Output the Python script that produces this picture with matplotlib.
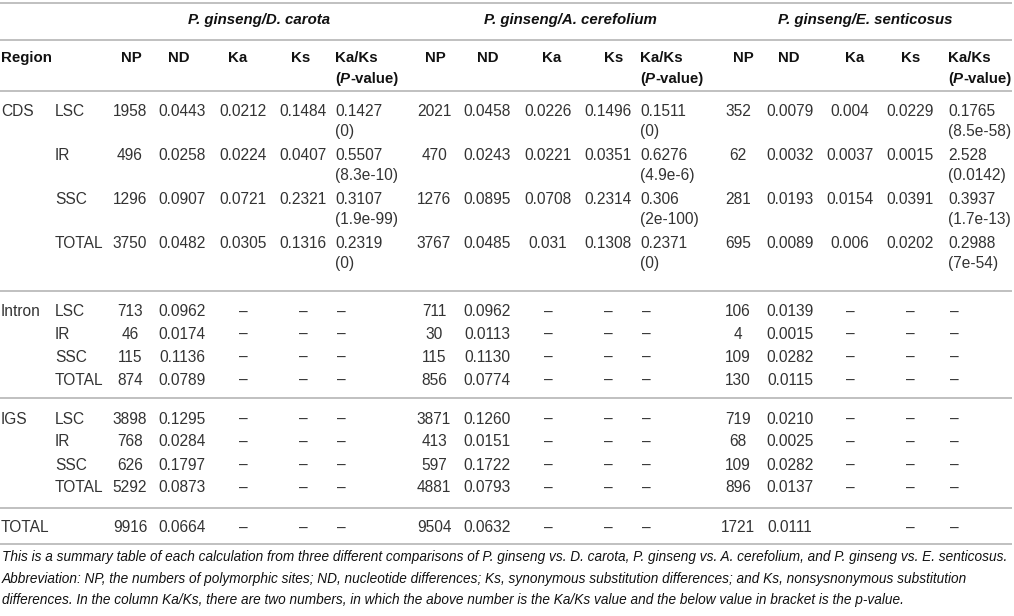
import matplotlib
matplotlib.use('Agg')
import matplotlib.pyplot as plt

# ---- table data (strings keep the printed formatting) ----
regions = ['CDS', '', '', '', 'Intron', '', '', '', 'IGS', '', '', '', 'TOTAL']
subregions = ['LSC', 'IR', 'SSC', 'TOTAL'] * 3 + ['']

comparisons = ['P. ginseng/D. carota', 'P. ginseng/A. cerefolium', 'P. ginseng/E. senticosus']

np_carota = ['1958', '496', '1296', '3750', '713', '46', '115', '874', '3898', '768', '626', '5292', '9916']
nd_carota = ['0.0443', '0.0258', '0.0907', '0.0482', '0.0962', '0.0174', '0.1136', '0.0789',
             '0.1295', '0.0284', '0.1797', '0.0873', '0.0664']
ka_carota = ['0.0212', '0.0224', '0.0721', '0.0305'] + ['–'] * 9
ks_carota = ['0.1484', '0.0407', '0.2321', '0.1316'] + ['–'] * 9
kaks_carota = ['0.1427', '0.5507', '0.3107', '0.2319'] + ['–'] * 9
pval_carota = ['(0)', '(8.3e-10)', '(1.9e-99)', '(0)']

np_cere = ['2021', '470', '1276', '3767', '711', '30', '115', '856', '3871', '413', '597', '4881', '9504']
nd_cere = ['0.0458', '0.0243', '0.0895', '0.0485', '0.0962', '0.0113', '0.1130', '0.0774',
           '0.1260', '0.0151', '0.1722', '0.0793', '0.0632']
ka_cere = ['0.0226', '0.0221', '0.0708', '0.031'] + ['–'] * 9
ks_cere = ['0.1496', '0.0351', '0.2314', '0.1308'] + ['–'] * 9
kaks_cere = ['0.1511', '0.6276', '0.306', '0.2371'] + ['–'] * 9
pval_cere = ['(0)', '(4.9e-6)', '(2e-100)', '(0)']

np_sent = ['352', '62', '281', '695', '106', '4', '109', '130', '719', '68', '109', '896', '1721']
nd_sent = ['0.0079', '0.0032', '0.0193', '0.0089', '0.0139', '0.0015', '0.0282', '0.0115',
           '0.0210', '0.0025', '0.0282', '0.0137', '0.0111']
ka_sent = ['0.004', '0.0037', '0.0154', '0.006'] + ['–'] * 8 + ['']
ks_sent = ['0.0229', '0.0015', '0.0391', '0.0202'] + ['–'] * 9
kaks_sent = ['0.1765', '2.528', '0.3937', '0.2988'] + ['–'] * 9
pval_sent = ['(8.5e-58)', '(0.0142)', '(1.7e-13)', '(7e-54)']

footnote = [
    "This is a summary table of each calculation from three different comparisons of P. ginseng vs. D. carota, "
    "P. ginseng vs. A. cerefolium, and P. ginseng vs. E. senticosus.",
    "Abbreviation: NP, the numbers of polymorphic sites; ND, nucleotide differences; Ks, synonymous substitution "
    "differences; and Ks, nonsysnonymous substitution",
    "differences. In the column Ka/Ks, there are two numbers, in which the above number is the Ka/Ks value and "
    "the below value in bracket is the p-value.",
]

# ---- layout ----
W, H = 1014, 616
fig = plt.figure(figsize=(W / 100, H / 100), dpi=100)
ax = fig.add_axes([0, 0, 1, 1])
ax.set_xlim(0, W)
ax.set_ylim(H, 0)
ax.axis('off')
renderer = fig.canvas.get_renderer()

FAM = ['Liberation Sans', 'DejaVu Sans']
FS = 11.2
FS_HEAD = 10.8
BODY = '#333333'
HEAD = '#111111'
LINE = '#b5b5b5'

for yl in [3, 40, 91, 291, 398, 508, 544]:
    ax.plot([0, 1012], [yl, yl], color=LINE, lw=1.2, solid_capstyle='butt')

# row centres
row_y = [112 + 44 * i for i in range(4)] + [312 + 22.7 * i for i in range(4)] \
    + [419 + 23 * i for i in range(4)] + [528]

# column centres for NP, ND, Ka, Ks; left edge for Ka/Ks; header centres
col_geom = [
    dict(np=130, nd=182, ka=243, ks=303, kaks=335, hdr=259,
         hnp=131, hnd=179, hka=238, hks=301),
    dict(np=434, nd=487, ka=548, ks=608, kaks=640, hdr=570,
         hnp=435, hnd=488, hka=552, hks=614),
    dict(np=738, nd=790, ka=850, ks=910, kaks=948, hdr=865,
         hnp=743, hnd=789, hka=855, hks=911),
]
data = [
    (np_carota, nd_carota, ka_carota, ks_carota, kaks_carota, pval_carota),
    (np_cere, nd_cere, ka_cere, ks_cere, kaks_cere, pval_cere),
    (np_sent, nd_sent, ka_sent, ks_sent, kaks_sent, pval_sent),
]


def segs(x, y, parts, **kw):
    for s, style in parts:
        t = ax.text(x, y, s, style=style, ha='left', va='center', **kw)
        x += t.get_window_extent(renderer).width


hkw = dict(family=FAM, fontsize=FS_HEAD, fontweight='bold', color=HEAD)
bkw = dict(family=FAM, fontsize=FS, color=BODY)

# header
ax.text(1, 58, 'Region', ha='left', va='center', **hkw)
for name, g in zip(comparisons, col_geom):
    ax.text(g['hdr'], 20, name, ha='center', va='center', style='italic', **hkw)
    for lab, key in [('NP', 'hnp'), ('ND', 'hnd'), ('Ka', 'hka'), ('Ks', 'hks')]:
        ax.text(g[key], 58, lab, ha='center', va='center', **hkw)
    ax.text(g['kaks'], 58, 'Ka/Ks', ha='left', va='center', **hkw)
    segs(g['kaks'], 79, [('(', 'normal'), ('P', 'italic'), ('-value)', 'normal')], **hkw)

# body
for i, y in enumerate(row_y):
    if regions[i]:
        ax.text(1, y, regions[i], ha='left', va='center', **bkw)
    if subregions[i]:
        ax.text(55, y, subregions[i], ha='left', va='center', **bkw)
    for g, (npv, ndv, kav, ksv, kaksv, pv) in zip(col_geom, data):
        ax.text(g['np'], y, npv[i], ha='center', va='center', **bkw)
        ax.text(g['nd'], y, ndv[i], ha='center', va='center', **bkw)
        ax.text(g['ka'], y, kav[i], ha='center', va='center', **bkw)
        ax.text(g['ks'], y, ksv[i], ha='center', va='center', **bkw)
        if kaksv[i] == '–':
            ax.text(g['kaks'] + 2, y, kaksv[i], ha='left', va='center', **bkw)
        else:
            ax.text(g['kaks'], y, kaksv[i], ha='left', va='center', **bkw)
            ax.text(g['kaks'], y + 19.5, pv[i], ha='left', va='center', **bkw)

# footnote, sized so the first line spans the table width
fkw = dict(family=['Liberation Sans Narrow', 'Liberation Sans', 'DejaVu Sans'], style='italic', color=HEAD)
probe = ax.text(2, 557, footnote[0], ha='left', va='center', fontsize=10, **fkw)
fs_foot = 10 * 1008 / probe.get_window_extent(renderer).width
probe.remove()
for y, line in zip([557, 579, 600], footnote):
    ax.text(2, y, line, ha='left', va='center', fontsize=fs_foot, **fkw)

fig.savefig('out.png', dpi=100, facecolor='white')
